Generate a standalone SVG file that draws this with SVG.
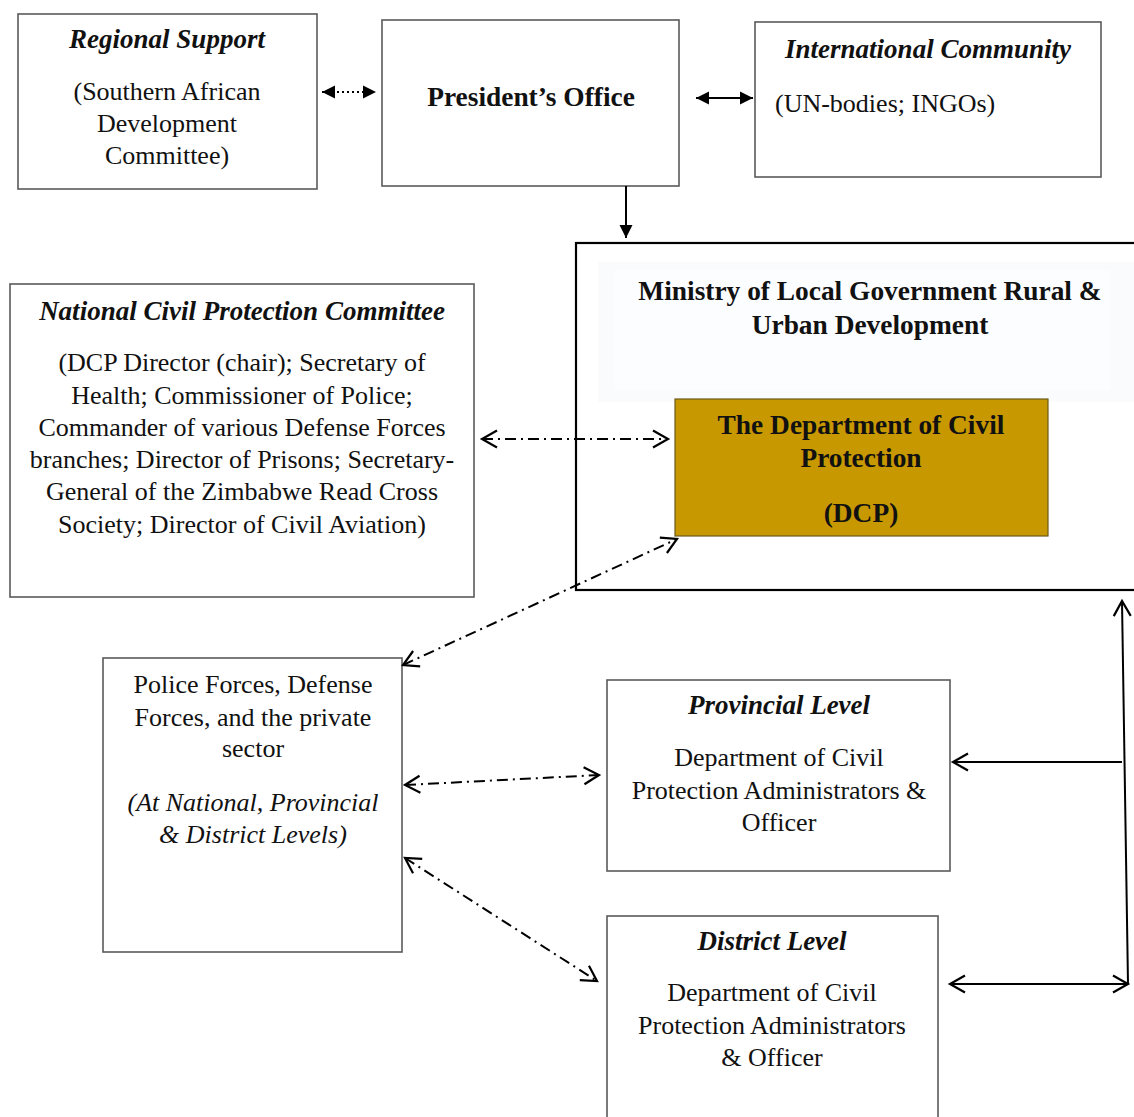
<svg xmlns="http://www.w3.org/2000/svg" width="1134" height="1117" viewBox="0 0 1134 1117">
<style>
.box{fill:#fff;stroke:#5a5a5a;stroke-width:1.6}
.t{font-family:"Liberation Serif","Times New Roman",serif;font-size:26px;fill:#111;text-anchor:middle}
.h{font-weight:bold;font-style:italic;font-size:27px}
.b{font-weight:bold;font-size:27.4px}
.i{font-style:italic}
.solid{stroke:#000;stroke-width:2;fill:none}
.dd{stroke:#000;stroke-width:2;fill:none;stroke-dasharray:11 5 2 5}
.dot{stroke:#000;stroke-width:2;fill:none;stroke-dasharray:2 3}
</style>
<defs>
<marker id="tri" markerUnits="userSpaceOnUse" markerWidth="14" markerHeight="14" viewBox="0 -7 14 14" refX="13" refY="0" orient="auto-start-reverse"><path d="M0,-6.5 L13,0 L0,6.5 z" fill="#000"/></marker>
<marker id="vee" markerUnits="userSpaceOnUse" markerWidth="20" markerHeight="22" viewBox="-2 -11 20 22" refX="15" refY="0" orient="auto-start-reverse"><path d="M0,-8.5 L15,0 L0,8.5" fill="none" stroke="#000" stroke-width="2.2"/></marker>
</defs>
<rect width="1134" height="1117" fill="#fff"/>

<g id="regional-support">
<rect class="box" x="18" y="14" width="299" height="175"/>
<text class="t h" x="167" y="48">Regional Support</text>
<text class="t" x="167" y="100">(Southern African</text>
<text class="t" x="167" y="132">Development</text>
<text class="t" x="167" y="164">Committee)</text>
</g>

<g id="presidents-office">
<rect class="box" x="382" y="20" width="297" height="166"/>
<text class="t b" x="531" y="106">President’s Office</text>
</g>

<g id="international-community">
<rect class="box" x="755" y="22" width="346" height="155"/>
<text class="t h" x="928" y="58">International Community</text>
<text class="t" x="775" y="112" style="text-anchor:start">(UN-bodies; INGOs)</text>
</g>

<g id="ncpc">
<rect class="box" x="10" y="284" width="464" height="313"/>
<text class="t h" x="242" y="320">National Civil Protection Committee</text>
<text class="t" x="242" y="371">(DCP Director (chair); Secretary of</text>
<text class="t" x="242" y="404">Health; Commissioner of Police;</text>
<text class="t" x="242" y="436">Commander of various Defense Forces</text>
<text class="t" x="242" y="468">branches; Director of Prisons; Secretary-</text>
<text class="t" x="242" y="500">General of the Zimbabwe Read Cross</text>
<text class="t" x="242" y="533">Society; Director of Civil Aviation)</text>
</g>

<g id="ministry">
<rect x="576" y="243" width="600" height="347" fill="#fff" stroke="#000" stroke-width="2.2"/>
<rect x="598" y="262" width="536" height="140" fill="#fafbfd"/>
<rect x="614" y="270" width="496" height="120" fill="#fcfdfe"/>
<text class="t b" x="870" y="300">Ministry of Local Government Rural &amp;</text>
<text class="t b" x="870" y="334">Urban Development</text>
</g>

<g id="dcp">
<rect x="675" y="399" width="373" height="137" fill="#c89800" stroke="#6b5a1a" stroke-width="1.2"/>
<text class="t b" x="861" y="434">The Department of Civil</text>
<text class="t b" x="861" y="467">Protection</text>
<text class="t b" x="861" y="522">(DCP)</text>
</g>

<g id="police-defense">
<rect class="box" x="103" y="658" width="299" height="294"/>
<text class="t" x="253" y="693">Police Forces, Defense</text>
<text class="t" x="253" y="726">Forces, and the private</text>
<text class="t" x="253" y="757">sector</text>
<text class="t i" x="253" y="811">(At National, Provincial</text>
<text class="t i" x="253" y="843">&amp; District Levels)</text>
</g>

<g id="provincial-level">
<rect class="box" x="607" y="680" width="343" height="191"/>
<text class="t h" x="779" y="714">Provincial Level</text>
<text class="t" x="779" y="766">Department of Civil</text>
<text class="t" x="779" y="799">Protection Administrators &amp;</text>
<text class="t" x="779" y="831">Officer</text>
</g>

<g id="district-level">
<rect class="box" x="607" y="916" width="331" height="220"/>
<text class="t h" x="772" y="950">District Level</text>
<text class="t" x="772" y="1001">Department of Civil</text>
<text class="t" x="772" y="1034">Protection Administrators</text>
<text class="t" x="772" y="1066">&amp; Officer</text>
</g>

<g id="connectors">
<path class="dot" d="M322,92 L376,92" marker-start="url(#tri)" marker-end="url(#tri)"/>
<path class="solid" d="M696,98 L753,98" marker-start="url(#tri)" marker-end="url(#tri)"/>
<path class="solid" d="M626,186 L626,238" marker-end="url(#tri)"/>
<path class="dd" d="M482,439 L668,439" marker-start="url(#vee)" marker-end="url(#vee)"/>
<path class="dd" d="M403,665 L677,539" marker-start="url(#vee)" marker-end="url(#vee)"/>
<path class="dd" d="M405,785 L599,775" marker-start="url(#vee)" marker-end="url(#vee)"/>
<path class="dd" d="M405,858 L597,981" marker-start="url(#vee)" marker-end="url(#vee)"/>
<path class="solid" d="M1128,984 L1122,601" marker-end="url(#vee)"/>
<path class="solid" d="M1122,762 L953,762" marker-end="url(#vee)"/>
<path class="solid" d="M950,984 L1128,984" marker-start="url(#vee)" marker-end="url(#vee)"/>
</g>
</svg>
